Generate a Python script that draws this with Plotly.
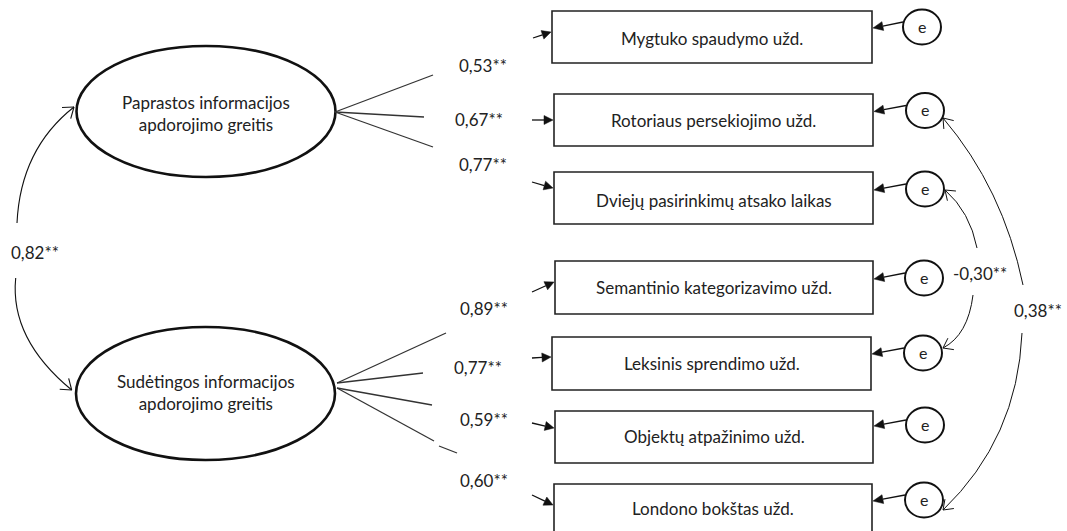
import math
import plotly.graph_objects as go

# ---------------- data ----------------
latent_names = ["Paprastos informacijos<br>apdorojimo greitis",
                "Sudėtingos informacijos<br>apdorojimo greitis"]
indicator_names = ["Mygtuko spaudymo užd.",
                   "Rotoriaus persekiojimo užd.",
                   "Dviejų pasirinkimų atsako laikas",
                   "Semantinio kategorizavimo užd.",
                   "Leksinis sprendimo užd.",
                   "Objektų atpažinimo užd.",
                   "Londono bokštas užd."]
indicator_factor = [0, 0, 0, 1, 1, 1, 1]
loadings = [0.53, 0.67, 0.77, 0.89, 0.77, 0.59, 0.60]
factor_correlation = 0.82
error_correlations = [-0.30, 0.38]
error_pairs = [(2, 4), (1, 6)]
significance = "**"
error_label = "e"


def fmt(v):
    return f"{v:.2f}".replace(".", ",") + significance


# ---------------- layout geometry (page pixels) ----------------
W, H = 1067, 531
FONT = "Lato"
FS = 17
INK = "#111111"

ell_c = [(206, 111.5), (205.5, 393.5)]
ell_r = [(129.5, 65.5), (129.5, 66.5)]
ell_text_y = [113, 392]

box_x0 = [552, 554, 554, 555, 552, 555, 554]
box_x1 = [872, 873, 873, 873, 871, 873, 872]
box_y0 = [11, 94, 172, 261, 337, 411, 484]
box_y1 = [63, 146, 224, 314, 390, 463, 536]
box_text_y = [38, 120, 200, 287, 363, 436, 508]

circ_c = [(922, 27), (925, 110.5), (925, 189), (924, 278), (923, 353), (925, 425), (924, 500)]
circ_r = (19, 17.5)

in_tail = [(533, 38), (532, 120), (532, 182), (532, 292), (532, 358), (532, 423), (532, 495)]
in_tip = [(551, 32), (553, 120), (553, 188), (554, 282), (551, 357), (554, 428), (553, 505)]

load_start = [(335, 112), (335, 112), (335, 112), (337, 383), (337, 383), (337, 388), (337, 388)]
load_end = [(433, 75), (424, 117), (433, 147), (446, 333), (423, 373), (432, 405), (434, 441)]
extra_dash = [(439, 446), (457, 453)]
load_lab = [(457, 65), (453, 119), (457, 164), (458, 308), (452, 367), (458, 419), (458, 480)]

fc_paths = [((17, 223), (20.5, 149), (74, 107)),
            ((15.7, 278), (9.7, 339), (71.7, 390))]
fc_label = (9, 252)

ec_paths = [[((977, 248), (970, 212), (945, 190)), ((973, 295), (968, 335), (943, 348))],
            [((1023, 285), (1003, 188.5), (943, 118)), ((1022, 333), (1017.5, 438.5), (943, 510))]]
ec_label = [(951, 273, "left"), (1064, 310, "right")]

shapes = []
annotations = []


def line(p, q, w=1.2, color=INK):
    shapes.append(dict(type="line", xref="x", yref="y", x0=p[0], y0=p[1], x1=q[0], y1=q[1],
                       line=dict(color=color, width=w), layer="above"))


def filled_head(tail, tip, length=9, half=4.2):
    dx, dy = tip[0] - tail[0], tip[1] - tail[1]
    n = math.hypot(dx, dy)
    ux, uy = dx / n, dy / n
    bx, by = tip[0] - ux * length, tip[1] - uy * length
    px, py = -uy, ux
    path = (f"M{tip[0]},{tip[1]} L{bx + px * half},{by + py * half} "
            f"L{bx - px * half},{by - py * half} Z")
    shapes.append(dict(type="path", xref="x", yref="y", path=path, fillcolor=INK,
                       line=dict(color=INK, width=0.5), layer="above"))
    line(tail, (bx, by), 1.3)


def curve_with_barbs(p0, c, p2, w=1.0, blen=11, ang=33):
    shapes.append(dict(type="path", xref="x", yref="y",
                       path=f"M{p0[0]},{p0[1]} Q{c[0]},{c[1]} {p2[0]},{p2[1]}",
                       line=dict(color=INK, width=w), layer="above"))
    dx, dy = p2[0] - c[0], p2[1] - c[1]
    n = math.hypot(dx, dy)
    bx, by = -dx / n, -dy / n
    for s in (1, -1):
        a = math.radians(ang * s)
        rx = bx * math.cos(a) - by * math.sin(a)
        ry = bx * math.sin(a) + by * math.cos(a)
        line(p2, (p2[0] + rx * blen, p2[1] + ry * blen), w)


def text(x, y, s, anchor="center", size=FS):
    annotations.append(dict(x=x, y=y, xref="x", yref="y", text=s, showarrow=False,
                            xanchor=anchor, yanchor="middle",
                            font=dict(family=FONT, size=size, color="#222222")))


# latent ellipses
for i, name in enumerate(latent_names):
    cx, cy = ell_c[i]
    rx, ry = ell_r[i]
    shapes.append(dict(type="circle", xref="x", yref="y", x0=cx - rx, x1=cx + rx,
                       y0=cy - ry, y1=cy + ry, line=dict(color=INK, width=2.6)))
    text(cx, ell_text_y[i], name)

# indicator boxes, error terms
for i, name in enumerate(indicator_names):
    shapes.append(dict(type="rect", xref="x", yref="y", x0=box_x0[i], x1=box_x1[i],
                       y0=box_y0[i], y1=box_y1[i], line=dict(color="#222222", width=1.6)))
    text((box_x0[i] + box_x1[i]) / 2, box_text_y[i], name)
    filled_head(in_tail[i], in_tip[i], length=9, half=4.5)
    cx, cy = circ_c[i]
    shapes.append(dict(type="circle", xref="x", yref="y", x0=cx - circ_r[0], x1=cx + circ_r[0],
                       y0=cy - circ_r[1], y1=cy + circ_r[1], line=dict(color=INK, width=2.0)))
    text(cx, cy - 1, error_label, size=16)
    filled_head((cx - circ_r[0], cy - 5), (box_x1[i] + 1, cy + 1), length=10, half=4.5)

# loading lines and labels
for i, v in enumerate(loadings):
    line(load_start[i], load_end[i], 1.3, "#333333")
    text(load_lab[i][0], load_lab[i][1], fmt(v), anchor="left")
line(extra_dash[0], extra_dash[1], 1.3, "#333333")

# factor correlation
for p0, c, p2 in fc_paths:
    curve_with_barbs(p0, c, p2, w=1.1, blen=12, ang=36)
text(fc_label[0], fc_label[1], fmt(factor_correlation), anchor="left")

# error correlations
for k, v in enumerate(error_correlations):
    for p0, c, p2 in ec_paths[k]:
        curve_with_barbs(p0, c, p2, w=1.0, blen=11, ang=36)
    text(ec_label[k][0], ec_label[k][1], fmt(v), anchor=ec_label[k][2])

fig = go.Figure()
fig.add_trace(go.Scatter(x=[0, W], y=[0, H], mode="markers",
                         marker=dict(opacity=0), hoverinfo="skip", showlegend=False))
fig.update_layout(width=W, height=H, margin=dict(l=0, r=0, t=0, b=0),
                  paper_bgcolor="white", plot_bgcolor="white",
                  shapes=shapes, annotations=annotations, showlegend=False,
                  xaxis=dict(range=[0, W], visible=False, fixedrange=True),
                  yaxis=dict(range=[H, 0], visible=False, fixedrange=True))
fig.write_html("out.html", config={"displayModeBar": False, "staticPlot": True},
               post_script="document.body.style.margin='0';document.body.style.overflow='hidden';")
